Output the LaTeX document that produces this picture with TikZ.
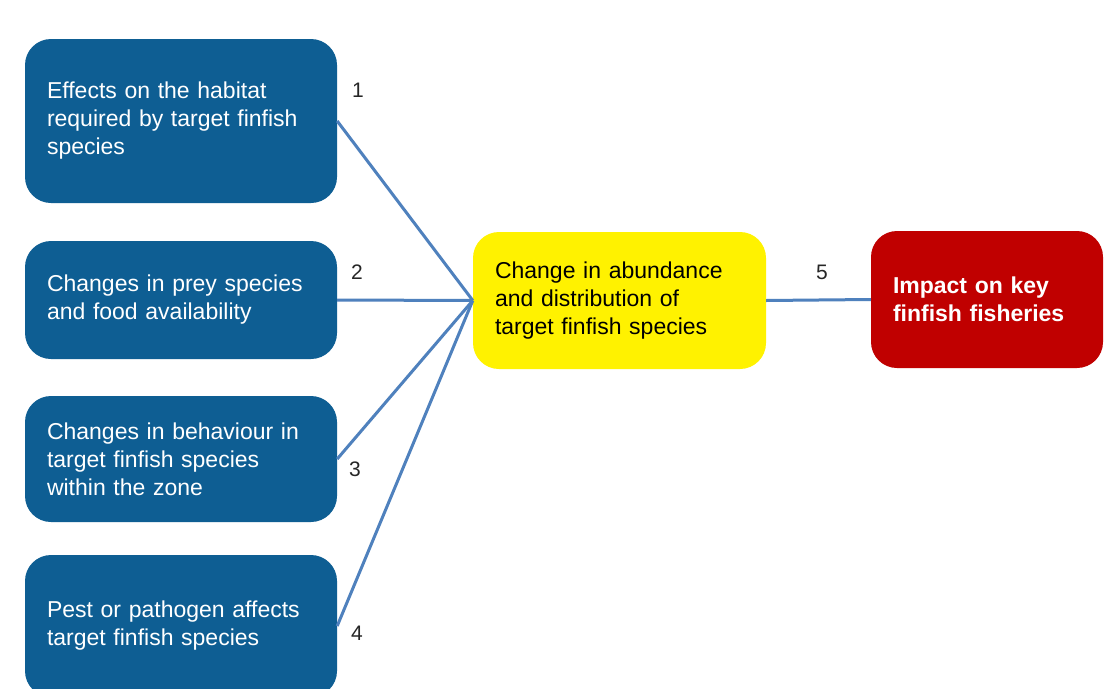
\documentclass[tikz,border=0pt]{standalone}
\usepackage{fontspec}
\setmainfont{Liberation Sans}
\begin{document}
\begin{tikzpicture}[x=1pt,y=-1pt,
  box/.style={rounded corners=26pt, inner xsep=22pt, inner ysep=0pt,
    align=left, font=\fontsize{23}{28}\selectfont, anchor=center},
  cause/.style={box, fill=causeblue, text=white, minimum width=312pt,
    text width=268pt},
  link/.style={draw=linkblue, line width=3pt},
  num/.style={font=\fontsize{21}{24}\selectfont, text=black!85, inner sep=0pt}]
\definecolor{causeblue}{HTML}{0E5E93}
\definecolor{linkblue}{HTML}{4F81BD}
\definecolor{impactred}{HTML}{C00000}
\clip (0,0) rectangle (1113,688);
\fill[white] (0,0) rectangle (1113,688);

% causes on the left
\node[cause, minimum height=164pt] (c1) at (181,121)
  {Effects on the habitat\\required by target finfish\\species};
\node[cause, minimum height=118pt] (c2) at (181,300)
  {Changes in prey species\\and food availability};
\node[cause, minimum height=126pt] (c3) at (181,459)
  {Changes in behaviour in\\target finfish species\\within the zone};
\node[cause, minimum height=142pt] (c4) at (181,626)
  {Pest or pathogen affects\\target finfish species};

% central effect and final impact
\node[box, fill=yellow, text=black, minimum width=293pt, text width=249pt,
  minimum height=137pt] (mid) at (619.5,300.5)
  {Change in abundance\\and distribution of\\target finfish species};
\node[box, fill=impactred, text=white, minimum width=232pt, text width=188pt,
  minimum height=137pt, font=\fontsize{23}{28}\selectfont\bfseries] (imp) at (987,299.5)
  {Impact on key\\finfish fisheries};

% connectors
\draw[link] (c1.east) -- (mid.west);
\draw[link] (c2.east) -- (mid.west);
\draw[link] (c3.east) -- (mid.west);
\draw[link] (c4.east) -- (mid.west);
\draw[link] (mid.east) -- (imp.west);

% pathway numbers
\node[num] (n1) at (358,90) {1};
\node[num] (n2) at (357,272) {2};
\node[num] (n3) at (355,469) {3};
\node[num] (n4) at (357,633) {4};
\node[num] (n5) at (822,272) {5};
\end{tikzpicture}
\end{document}
